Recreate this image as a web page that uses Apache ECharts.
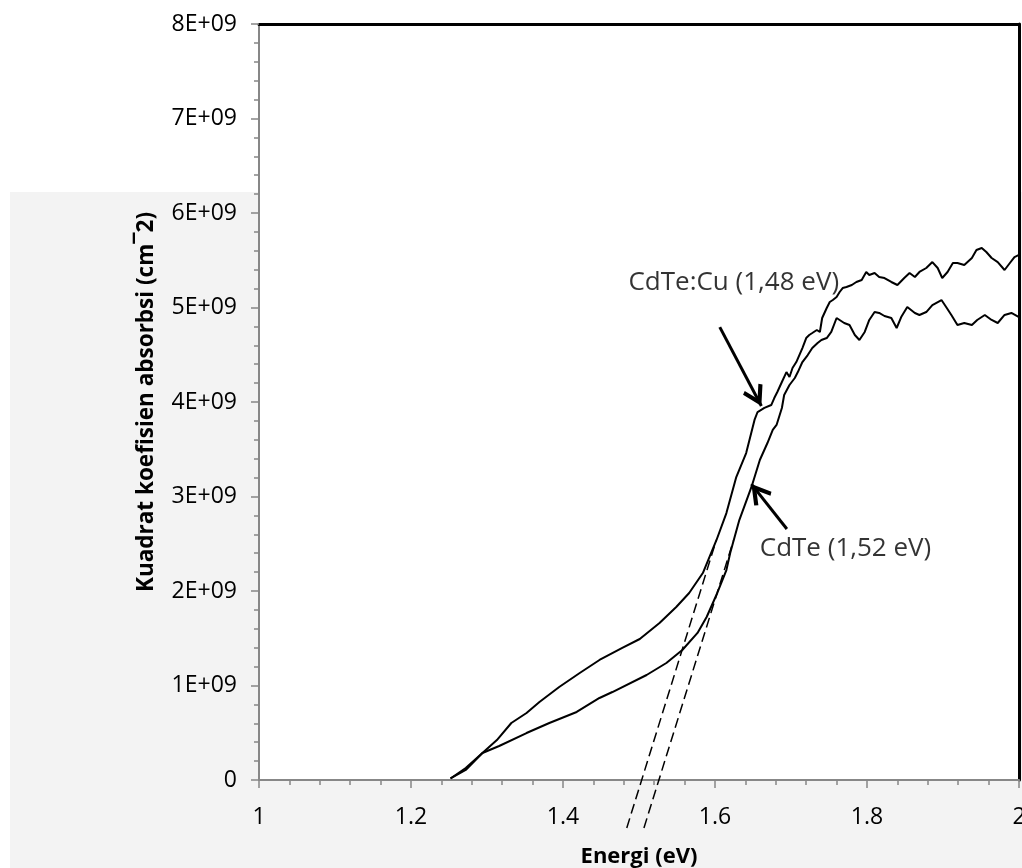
<!DOCTYPE html>
<html>
<head>
<meta charset="utf-8">
<script src="https://cdn.jsdelivr.net/npm/echarts@6/dist/echarts.min.js"></script>
<style>
html,body{margin:0;padding:0;background:#fff;width:100%;height:100%;overflow:hidden;}
#chart{position:absolute;left:0;top:0;width:1022px;height:868px;}
</style>
</head>
<body>
<div id="chart"></div>
<script>
// ---- Data (energy in eV, squared absorption coefficient in units of 1E+09 cm^-2) ----
const energyCu = [1.252,1.272,1.294,1.313,1.332,1.352,1.369,1.395,1.422,1.448,1.478,1.501,1.527,1.549,1.566,1.584,1.602,1.615,1.628,1.641,1.652,1.656,1.665,1.674,1.678,1.682,1.688,1.694,1.698,1.702,1.707,1.711,1.715,1.720,1.724,1.728,1.734,1.738,1.741,1.747,1.751,1.755,1.760,1.764,1.768,1.773,1.780,1.786,1.793,1.799,1.803,1.810,1.816,1.823,1.832,1.840,1.849,1.856,1.863,1.869,1.878,1.886,1.893,1.899,1.906,1.913,1.919,1.928,1.938,1.944,1.951,1.957,1.964,1.972,1.981,1.988,1.994,2.000];
const absCu    = [0.016,0.106,0.286,0.423,0.603,0.709,0.825,0.984,1.132,1.270,1.397,1.492,1.661,1.831,1.979,2.190,2.540,2.825,3.206,3.460,3.810,3.894,3.937,3.968,4.042,4.106,4.212,4.317,4.265,4.360,4.423,4.497,4.571,4.677,4.709,4.730,4.762,4.741,4.889,4.995,5.058,5.079,5.111,5.164,5.206,5.217,5.238,5.270,5.291,5.376,5.344,5.365,5.323,5.312,5.270,5.238,5.312,5.365,5.323,5.376,5.418,5.481,5.418,5.312,5.376,5.471,5.471,5.450,5.524,5.608,5.630,5.587,5.524,5.481,5.397,5.471,5.534,5.556];

const energyCdTe = [1.252,1.272,1.294,1.316,1.352,1.382,1.418,1.448,1.465,1.510,1.536,1.557,1.577,1.589,1.603,1.615,1.620,1.632,1.648,1.659,1.669,1.676,1.681,1.688,1.691,1.698,1.705,1.709,1.715,1.722,1.728,1.735,1.740,1.747,1.753,1.760,1.764,1.770,1.777,1.784,1.790,1.797,1.803,1.810,1.816,1.823,1.832,1.839,1.845,1.853,1.863,1.869,1.878,1.886,1.898,1.905,1.911,1.919,1.928,1.938,1.945,1.955,1.964,1.972,1.981,1.990,2.000];
const absCdTe    = [0.016,0.127,0.286,0.360,0.497,0.603,0.720,0.868,0.931,1.111,1.238,1.376,1.556,1.725,1.979,2.222,2.402,2.751,3.101,3.386,3.566,3.704,3.757,3.937,4.074,4.180,4.254,4.317,4.423,4.497,4.571,4.624,4.656,4.677,4.741,4.889,4.868,4.836,4.815,4.709,4.656,4.741,4.868,4.952,4.942,4.910,4.889,4.783,4.899,5.005,4.942,4.921,4.952,5.026,5.079,4.995,4.921,4.815,4.836,4.815,4.868,4.921,4.868,4.836,4.921,4.942,4.899];

// Tangent (extrapolation) lines: [energy, value E9]
const tangentCuE   = [1.4839, 1.6015];
const tangentCuV   = [-0.507, 2.533];
const tangentCdTeE = [1.5065, 1.6243];
const tangentCdTeV = [-0.507, 2.533];

// Annotations
const annoTexts   = ['CdTe:Cu (1,48 eV)', 'CdTe (1,52 eV)'];
const annoAnchorE = [1.6247, 1.7717];
const annoAnchorV = [5.259, 2.449];
const arrowFromE  = [1.6063, 1.6946];
const arrowFromV  = [4.792, 2.656];
const arrowToE    = [1.661, 1.6479];
const arrowToV    = [3.958, 3.131];

const xTicks = [1, 1.2, 1.4, 1.6, 1.8, 2];
const yTickLabels = ['0','1E+09','2E+09','3E+09','4E+09','5E+09','6E+09','7E+09','8E+09'];

const E9 = 1e9;
const pairs = (xs, ys) => xs.map((x, i) => [x, ys[i] * E9]);

const FONT = '"Open Sans", "DejaVu Sans", sans-serif';
const AXIS_GRAY = '#878787';

const chart = echarts.init(document.getElementById('chart'), null, {renderer: 'canvas', width: 1022, height: 868});

// open arrow head; the empty sub-path makes the tip sit at the symbol centre
const chevron = 'path://M6,0 L12,10 L10.2,11.4 L6,4.4 L1.8,11.4 L0,10 Z M6,-11.4 L6,-11.4 Z';

const arrowData = arrowFromE.map((e, i) => [
  {coord: [e, arrowFromV[i] * E9], symbol: 'none'},
  {coord: [arrowToE[i], arrowToV[i] * E9], symbol: chevron}
]);

const option = {
  backgroundColor: '#ffffff',
  animation: false,
  graphic: [{
    type: 'rect',
    z: -100,
    silent: true,
    shape: {x: 10, y: 192, width: 1012, height: 676},
    style: {fill: '#f3f3f3'}
  }],
  grid: {
    left: 259, top: 24, width: 760, height: 756,
    outerBoundsMode: 'none', containLabel: false,
    show: true, backgroundColor: '#ffffff', borderWidth: 0
  },
  xAxis: [{
    type: 'value', min: 1, max: 2, interval: 0.2,
    name: 'Energi (eV)', nameLocation: 'middle', nameGap: 66,
    nameTextStyle: {fontFamily: FONT, fontSize: 22, fontWeight: 'bold', color: '#000'},
    axisLine: {show: true, onZero: false, lineStyle: {color: AXIS_GRAY, width: 2}},
    axisTick: {show: true, inside: false, length: 8, lineStyle: {color: AXIS_GRAY, width: 1.5}},
    minorTick: {show: true, splitNumber: 5, length: 5, lineStyle: {color: AXIS_GRAY, width: 1.5}},
    splitLine: {show: false},
    axisLabel: {
      fontFamily: FONT, fontSize: 23, color: '#000', margin: 26,
      formatter: v => { const t = xTicks.find(k => Math.abs(k - v) < 1e-9); return t === undefined ? '' : String(t); }
    }
  }, {
    type: 'value', min: 1, max: 2, position: 'top',
    axisLine: {show: true, onZero: false, lineStyle: {color: '#000', width: 3}},
    axisTick: {show: false}, axisLabel: {show: false}, splitLine: {show: false}
  }],
  yAxis: [{
    type: 'value', min: 0, max: 8 * E9, interval: E9,
    name: 'Kuadrat koefisien absorbsi (cm¯2)', nameLocation: 'middle', nameGap: 101, nameRotate: 90,
    nameTextStyle: {fontFamily: FONT, fontSize: 22.5, fontWeight: 'bold', color: '#000'},
    axisLine: {show: true, onZero: false, lineStyle: {color: AXIS_GRAY, width: 2}},
    axisTick: {show: true, inside: false, length: 8, lineStyle: {color: AXIS_GRAY, width: 1.5}},
    minorTick: {show: true, splitNumber: 5, length: 5, lineStyle: {color: AXIS_GRAY, width: 1.5}},
    splitLine: {show: false},
    axisLabel: {
      fontFamily: FONT, fontSize: 23, color: '#000', margin: 22,
      formatter: v => yTickLabels[Math.round(v / E9)]
    }
  }, {
    type: 'value', min: 0, max: 8 * E9, position: 'right',
    axisLine: {show: true, onZero: false, lineStyle: {color: '#000', width: 3}},
    axisTick: {show: false}, axisLabel: {show: false}, splitLine: {show: false}
  }],
  series: [{
    name: 'CdTe:Cu', type: 'line', showSymbol: false, symbol: 'none',
    data: pairs(energyCu, absCu),
    lineStyle: {color: '#000', width: 2},
    z: 5
  }, {
    name: 'CdTe', type: 'line', showSymbol: false, symbol: 'none',
    data: pairs(energyCdTe, absCdTe),
    lineStyle: {color: '#000', width: 2},
    z: 5
  }, {
    name: 'tangent CdTe:Cu', type: 'line', showSymbol: false, symbol: 'none', clip: false,
    data: pairs(tangentCuE, tangentCuV),
    lineStyle: {color: '#000', width: 1.5, type: [10, 5]},
    z: 4
  }, {
    name: 'tangent CdTe', type: 'line', showSymbol: false, symbol: 'none', clip: false,
    data: pairs(tangentCdTeE, tangentCdTeV),
    lineStyle: {color: '#000', width: 1.5, type: [10, 5]},
    z: 4
  }, {
    name: 'annotations', type: 'scatter', symbolSize: 0, silent: true, clip: false,
    data: annoTexts.map((t, i) => ({value: [annoAnchorE[i], annoAnchorV[i] * E9], name: t})),
    label: {
      show: true, position: 'inside', formatter: p => p.name,
      fontFamily: FONT, fontSize: 26, color: '#000'
    },
    markLine: {
      silent: true, animation: false,
      symbolSize: [22, 42],
      lineStyle: {color: '#000', width: 3, type: 'solid'},
      label: {show: false},
      data: arrowData
    },
    z: 6
  }]
};
chart.setOption(option);
</script>
</body>
</html>
